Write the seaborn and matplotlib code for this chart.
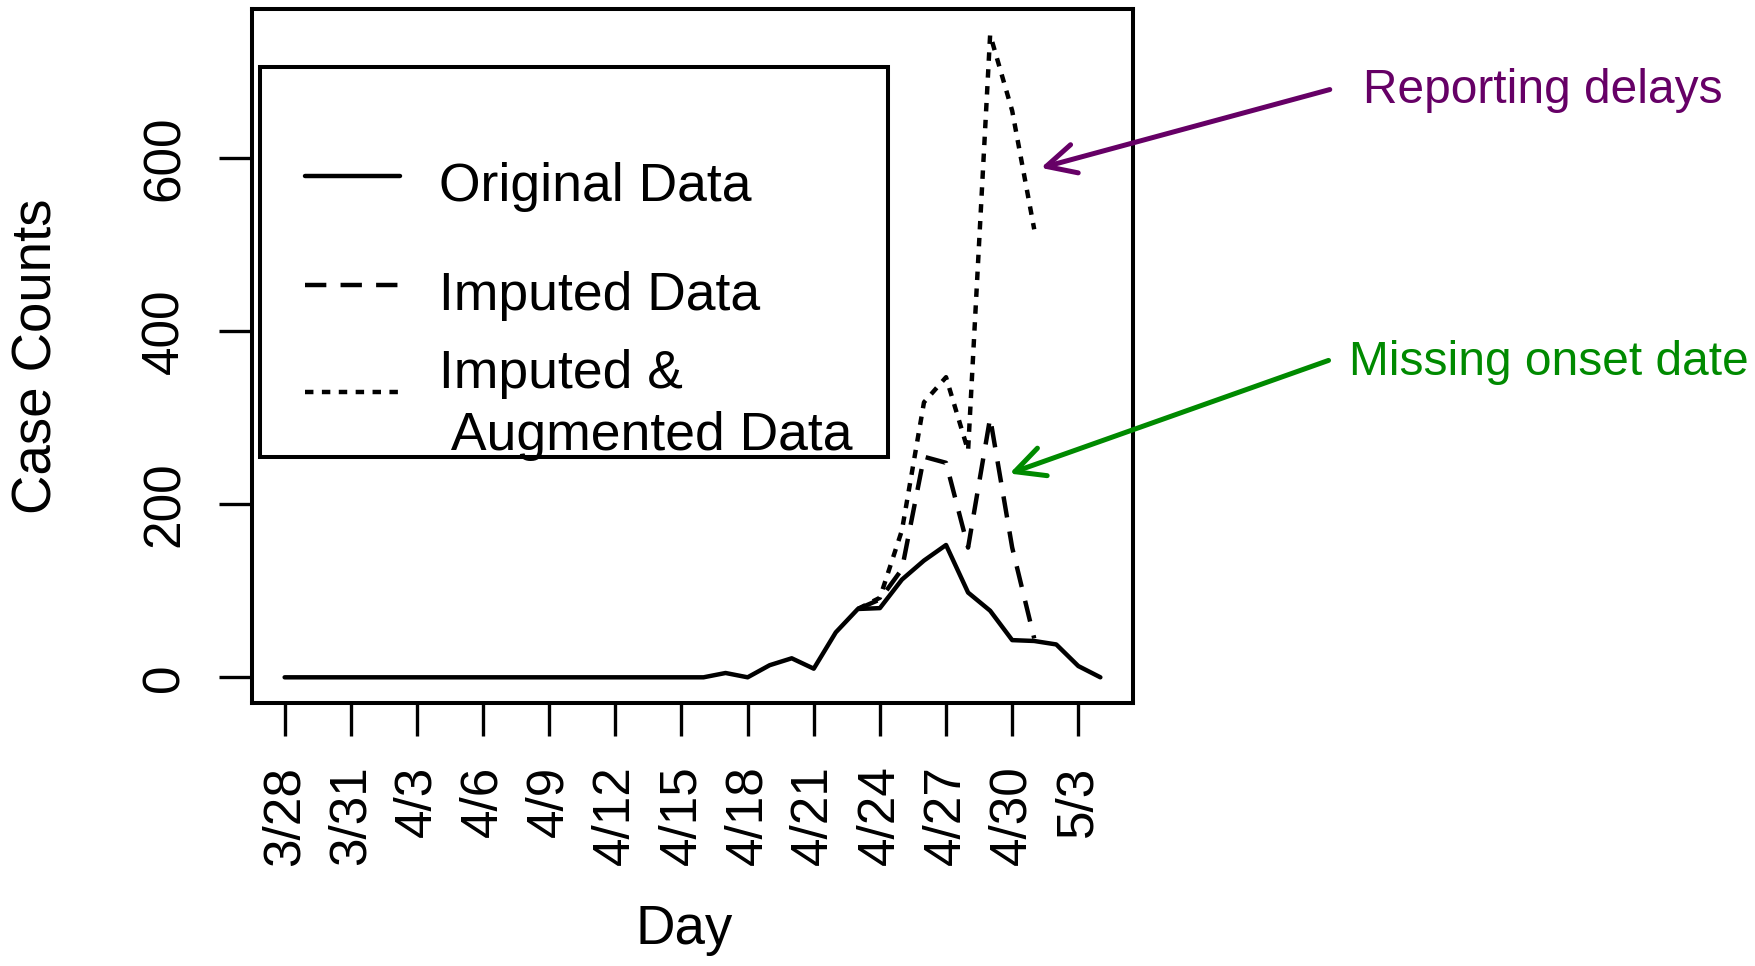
import matplotlib
matplotlib.use("Agg")
import numpy as np
import pandas as pd
import seaborn as sns
import matplotlib.pyplot as plt
from matplotlib import font_manager
from matplotlib.lines import Line2D
from matplotlib.patches import Rectangle

# ---------------- data ----------------
tick_labels = ["3/28", "3/31", "4/3", "4/6", "4/9", "4/12", "4/15",
               "4/18", "4/21", "4/24", "4/27", "4/30", "5/3"]
tick_days = list(range(0, 37, 3))

# daily counts, day 0 = 3/28 ... day 37 = 5/4
original_counts = [0] * 20 + [5, 0, 14, 22, 10, 52, 79, 80, 113, 135,
                              153, 98, 77, 43, 42, 38, 13, 0]
imputed_start = 26  # 4/23
imputed_counts = [79, 90, 125, 255, 248, 150, 300, 150, 45]
augmented_counts = [79, 92, 170, 318, 347, 262, 743, 655, 518]

series_names = ["Original Data", "Imputed Data", "Imputed & Augmented Data"]

rows = []
for d, v in enumerate(original_counts):
    rows.append((d, v, series_names[0]))
for i, v in enumerate(imputed_counts):
    rows.append((imputed_start + i, v, series_names[1]))
for i, v in enumerate(augmented_counts):
    rows.append((imputed_start + i, v, series_names[2]))
df = pd.DataFrame(rows, columns=["day", "count", "series"])

# ---------------- style ----------------
sns.set_theme(style="ticks")
names = {f.name for f in font_manager.fontManager.ttflist}
if "Liberation Sans Narrow" in names:
    fam, k = "Liberation Sans Narrow", 1.0
else:
    fam, k = "Liberation Sans", 0.82
plt.rcParams["font.family"] = [fam, "DejaVu Sans"]
for key in ["text.color", "axes.labelcolor", "xtick.color", "ytick.color", "axes.edgecolor"]:
    plt.rcParams[key] = "black"

LW = 3.2
dash_styles = {series_names[0]: "", series_names[1]: (4.8, 3.2), series_names[2]: (1.9, 1.9)}

fig = plt.figure(figsize=(17.55, 9.66), dpi=100)
ax = fig.add_axes([252 / 1755, 1 - 703 / 966, 881 / 1755, 694 / 966])

sns.lineplot(data=df, x="day", y="count", style="series", style_order=series_names,
             dashes=dash_styles, color="black", linewidth=LW, legend=False,
             estimator=None, errorbar=None, ax=ax)

ax.set_xlim(-1.48, 38.48)
ax.set_ylim(-29.7, 772.7)
ax.set_xticks(tick_days)
ax.set_xticklabels(tick_labels, rotation=90)
ax.set_yticks([0, 200, 400, 600])
ax.set_yticklabels(["0", "200", "400", "600"], rotation=90, va="center")
ax.tick_params(axis="both", direction="out", length=24, width=2.4, pad=21,
               labelsize=45 * k, bottom=True, left=True)
for s in ax.spines.values():
    s.set_visible(True)
    s.set_linewidth(2.9)
    s.set_color("black")

ax.set_xlabel("Day", fontsize=48 * k)
ax.set_ylabel("Case Counts", fontsize=48 * k)
ax.xaxis.set_label_coords(0.491, -0.29)
ax.yaxis.set_label_coords(-0.214, 0.5)

# ---------------- legend (R-style box) ----------------
ax.add_patch(Rectangle((0.0087, 0.3549), 0.7128, 0.5612, transform=ax.transAxes,
                       facecolor="white", edgecolor="black", linewidth=2.9, zorder=4))
leg_line_y = [0.7598, 0.6017, 0.4486]
for name, yy in zip(series_names, leg_line_y):
    ln = Line2D([0.0596, 0.1675], [yy, yy], transform=ax.transAxes, color="black",
                linewidth=LW, zorder=5)
    if dash_styles[name]:
        ln.set_dashes(dash_styles[name])
    ax.add_line(ln)
leg_texts = [("Original Data", 0.7233), ("Imputed Data", 0.5663),
             ("Imputed &", 0.4539), (" Augmented Data", 0.3646)]
for t, yy in leg_texts:
    ax.text(0.212, yy, t, transform=ax.transAxes, ha="left", va="baseline",
            fontsize=47 * k, zorder=6)

# ---------------- annotations ----------------
purple = "#660066"
green = "#008a00"
ax.annotate("", xy=(34.30, 589), xycoords="data",
            xytext=(0.7577, 0.9073), textcoords="figure fraction",
            arrowprops=dict(arrowstyle="->,head_length=0.7,head_width=0.35",
                            mutation_scale=30, color=purple, lw=3.6,
                            shrinkA=0, shrinkB=0),
            annotation_clip=False)
ax.annotate("", xy=(32.88, 235.6), xycoords="data",
            xytext=(0.7570, 0.6269), textcoords="figure fraction",
            arrowprops=dict(arrowstyle="->,head_length=0.7,head_width=0.35",
                            mutation_scale=30, color=green, lw=3.6,
                            shrinkA=0, shrinkB=0),
            annotation_clip=False)
fig.text(0.7766, 0.8934, "Reporting delays", color=purple, fontsize=42 * k,
         ha="left", va="baseline")
fig.text(0.7687, 0.6118, "Missing onset date", color=green, fontsize=42 * k,
         ha="left", va="baseline")

fig.savefig("out.png", dpi=100)
